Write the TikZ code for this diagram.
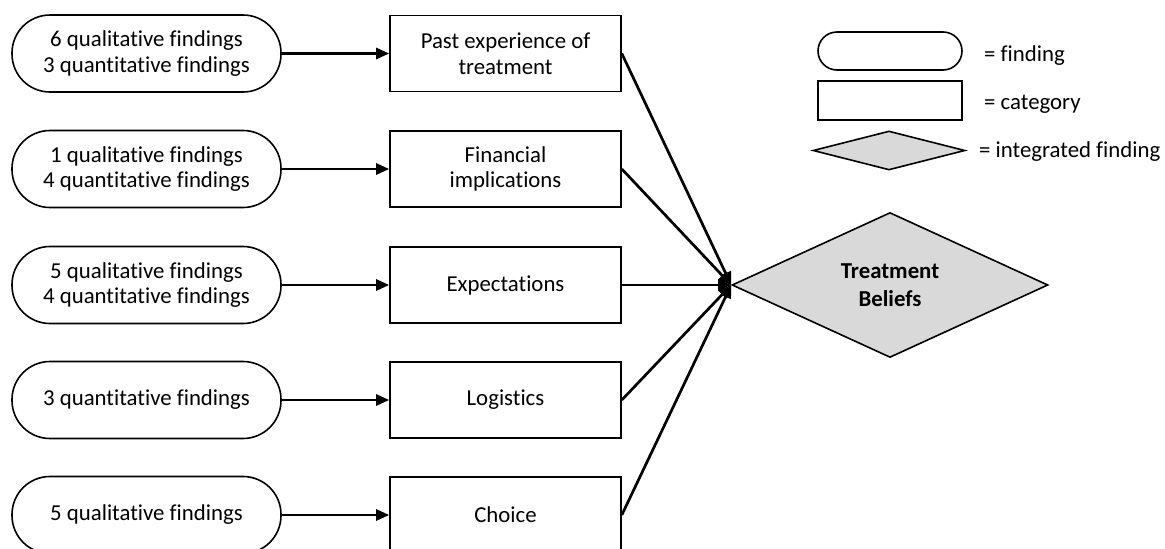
\documentclass[tikz,border=0pt]{standalone}
\usepackage{fontspec}
\setmainfont{Carlito}[RawFeature={-liga}]
\usetikzlibrary{shapes.geometric,arrows.meta}
\begin{document}
\begin{tikzpicture}[x=1pt,y=-1pt,
  every node/.style={font=\fontsize{22.8}{25.5}\selectfont},
  pill/.style={draw, line width=1.6pt, rounded corners=38pt, minimum width=269pt, minimum height=77pt, inner sep=0pt, align=center},
  cat/.style={draw, line width=1.6pt, minimum width=231pt, minimum height=76pt, inner sep=0pt, align=center},
  conn/.style={line width=2.7pt, -{Triangle[length=13pt,width=11pt]}},
  legtext/.style={anchor=west, inner sep=0pt}
]
\clip (0,0) rectangle (1165,549);
\useasboundingbox (0,0) rectangle (1165,549);

% integrated finding
\node[diamond, draw, line width=1.6pt, fill={rgb,255:red,217;green,217;blue,217}, minimum width=316pt, minimum height=145pt, inner sep=0pt, align=center, font=\fontsize{22.8}{28}\selectfont\bfseries] (tb) at (890,285) {Treatment\\Beliefs};

% rows
\node[pill] (f1) at (146.5,53.5) {6 qualitative findings\\3 quantitative findings};
\node[cat]  (c1) at (505.5,53.5) {Past experience of\\treatment};
\node[pill] (f2) at (146.5,169) {1 qualitative findings\\4 quantitative findings};
\node[cat]  (c2) at (505.5,169) {Financial\\implications};
\node[pill] (f3) at (146.5,285) {5 qualitative findings\\4 quantitative findings};
\node[cat]  (c3) at (505.5,285) {Expectations};
\node[pill] (f4) at (146.5,400) {3 quantitative findings};
\node[cat]  (c4) at (505.5,400) {Logistics};
\node[pill] (f5) at (146.5,515) {5 qualitative findings};
\node[cat]  (c5) at (505.5,515) {Choice};

\foreach \i in {1,...,5}{
  \draw[conn] (f\i.east) -- (c\i.west);
  \draw[conn] (c\i.east) -- (tb.west);
}

% legend
\node[draw, line width=1.6pt, rounded corners=19pt, minimum width=144pt, minimum height=38pt, inner sep=0pt] (lp) at (890,51) {};
\node[draw, line width=1.6pt, minimum width=144pt, minimum height=39pt, inner sep=0pt] (lr) at (890,100.5) {};
\node[diamond, draw, line width=1.6pt, fill={rgb,255:red,217;green,217;blue,217}, minimum width=152pt, minimum height=39pt, inner sep=0pt] (ld) at (889,150.5) {};
\node[legtext] (t1) at (984,56) {= finding};
\node[legtext] (t2) at (984,104) {= category};
\node[legtext] (t3) at (979,152) {= integrated finding};
\end{tikzpicture}
\end{document}
